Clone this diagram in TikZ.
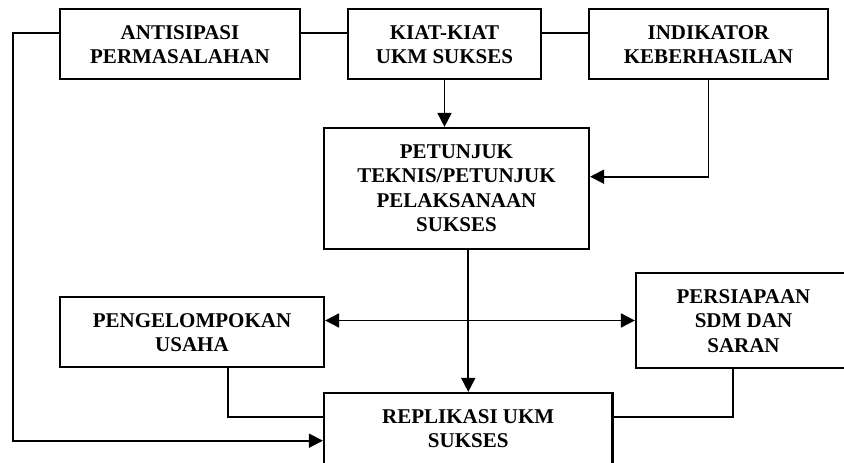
\documentclass[tikz,border=0pt]{standalone}
\usepackage{fontspec}
\setmainfont{Liberation Serif}
\usetikzlibrary{arrows.meta}
\newcommand{\boxlines}[1]{\begin{tabular}[t]{@{}c@{}}#1\end{tabular}}
\begin{document}
\begin{tikzpicture}[x=1pt,y=-1pt,
  box/.style={draw, line width=2.2pt, rectangle, inner xsep=0pt, inner ysep=0pt,
    font=\fontsize{21}{24.5}\selectfont\bfseries, text height=30pt},
  conn/.style={line width=1.8pt},
  arr/.style={conn, -{Triangle[length=14pt,width=14pt]}},
  darr/.style={conn, {Triangle[length=14pt,width=14pt]}-{Triangle[length=14pt,width=14pt]}},
]
\useasboundingbox (0,0) rectangle (844,463);
\node[box, minimum width=240pt, text depth=40pt] (anti) at (180,44) {\boxlines{ANTISIPASI\\PERMASALAHAN}};
\node[box, minimum width=193pt, text depth=40pt] (kiat) at (444.5,44) {\boxlines{KIAT-KIAT\\UKM SUKSES}};
\node[box, minimum width=239pt, text depth=40pt] (indi) at (708.5,44) {\boxlines{INDIKATOR\\KEBERHASILAN}};
\node[box, minimum width=265pt, text depth=91pt] (petunjuk) at (456.5,188.5) {\boxlines{PETUNJUK\\TEKNIS/PETUNJUK\\PELAKSANAAN\\SUKSES}};
\node[box, minimum width=264pt, text depth=40pt] (pengel) at (192,332) {\boxlines{PENGELOMPOKAN\\USAHA}};
\node[box, minimum width=215pt, text depth=65pt] (persiapan) at (743.5,320.5) {\boxlines{PERSIAPAAN\\SDM DAN\\SARAN}};
\node[box, minimum width=288.5pt, text depth=47pt] (repl) at (468.25,431.5) {\boxlines{REPLIKASI UKM\\SUKSES}};

\coordinate (ytop) at (0,33);
\draw[conn] (anti.east |- ytop) -- (kiat.west |- ytop);
\draw[conn] (kiat.east |- ytop) -- (indi.west |- ytop);
\coordinate (tl) at (12.7,33);
\coordinate (bl) at (12.7,440.7);
\draw[arr] (anti.west |- tl) -- (tl) -- (bl) -- (repl.west |- bl);
\draw[arr] (kiat.south) -- (kiat.south |- petunjuk.north);
\coordinate (ir) at (708.5,176.7);
\draw[arr] (indi.south) -- (ir) -- (petunjuk.east |- ir);
\draw[arr] (repl.north |- petunjuk.south) -- (repl.north);
\draw[darr] (pengel.east |- persiapan.west) -- (persiapan.west);
\coordinate (pl) at (228.3,417);
\draw[conn] (pl |- pengel.south) -- (pl) -- (repl.west |- pl);
\coordinate (pr) at (732.7,417);
\draw[conn] (pr |- persiapan.south) -- (pr) -- (repl.east |- pr);
\end{tikzpicture}
\end{document}
